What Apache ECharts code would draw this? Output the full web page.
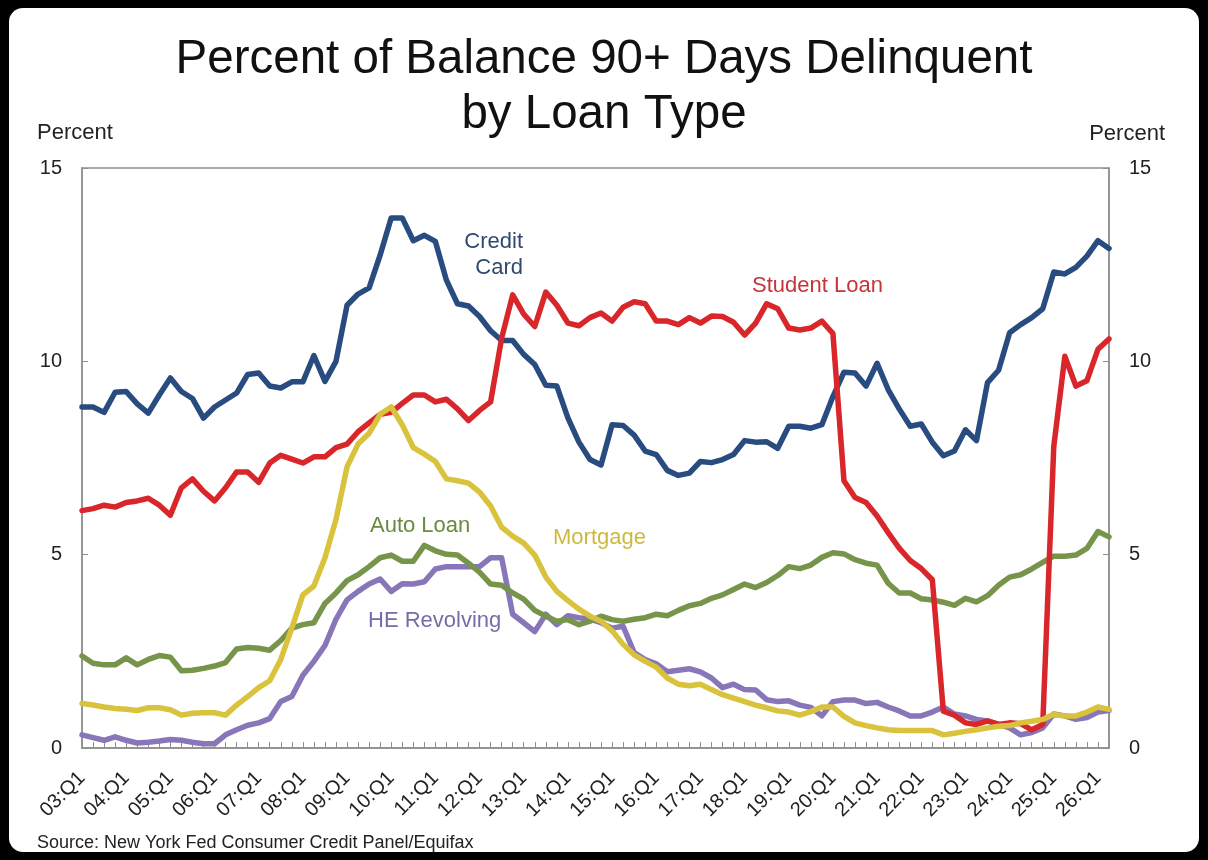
<!DOCTYPE html>
<html>
<head>
<meta charset="utf-8">
<title>Percent of Balance 90+ Days Delinquent by Loan Type</title>
<script src="https://cdn.jsdelivr.net/npm/echarts@6/dist/echarts.min.js"></script>
<style>
  html, body { margin: 0; padding: 0; background: #000; }
  #frame {
    position: absolute; left: 9px; top: 8px; right: 9px; bottom: 8px;
    background: #fff; border-radius: 14px;
  }
  #chart { position: absolute; left: 0; top: 0; width: 1208px; height: 860px; }
</style>
</head>
<body>
<div id="frame"></div>
<div id="chart"></div>
<script>
// quarterly categories 03:Q1 .. 26:Q2
const years = ["03", "04", "05", "06", "07", "08", "09", "10", "11", "12", "13", "14",
  "15", "16", "17", "18", "19", "20", "21", "22", "23", "24", "25", "26"];
const quarterNames = ["Q1", "Q2", "Q3", "Q4"];
const quarters = [];
years.forEach((y) => quarterNames.forEach((q) => quarters.push(`${y}:${q}`)));
quarters.length = 94;

const yTicks = [0, 5, 10, 15];

const creditCard = [
  8.82, 8.82, 8.68, 9.2, 9.22, 8.9, 8.66, 9.13, 9.57, 9.22,
  9.04, 8.53, 8.82, 9.0, 9.18, 9.66, 9.7, 9.36, 9.31, 9.47,
  9.47, 10.15, 9.48, 10.0, 11.45, 11.74, 11.9, 12.75, 13.71, 13.71,
  13.12, 13.26, 13.1, 12.1, 11.49, 11.43, 11.16, 10.79, 10.54, 10.54,
  10.18, 9.92, 9.38, 9.36, 8.54, 7.91, 7.46, 7.32, 8.36, 8.34,
  8.09, 7.68, 7.59, 7.18, 7.05, 7.11, 7.41, 7.38, 7.46, 7.59,
  7.95, 7.91, 7.92, 7.75, 8.32, 8.32, 8.27, 8.36, 9.09, 9.72,
  9.7, 9.36, 9.95, 9.27, 8.77, 8.32, 8.38, 7.91, 7.56, 7.68,
  8.23, 7.95, 9.45, 9.77, 10.74, 10.95, 11.13, 11.36, 12.31, 12.26,
  12.43, 12.72, 13.12, 12.92
];

const studentLoan = [
  6.14, 6.19, 6.28, 6.23, 6.35, 6.39, 6.46, 6.28, 6.02, 6.73,
  6.96, 6.64, 6.39, 6.73, 7.14, 7.14, 6.87, 7.37, 7.57, 7.47,
  7.37, 7.53, 7.53, 7.77, 7.86, 8.18, 8.41, 8.63, 8.68, 8.91,
  9.13, 9.13, 8.95, 9.02, 8.77, 8.47, 8.73, 8.95, 10.6, 11.72,
  11.22, 10.9, 11.79, 11.45, 10.99, 10.92, 11.13, 11.25, 11.04, 11.4,
  11.54, 11.49, 11.04, 11.04, 10.95, 11.13, 10.99, 11.17, 11.16, 11.01,
  10.68, 10.99, 11.49, 11.36, 10.86, 10.81, 10.86, 11.04, 10.72, 6.91,
  6.48, 6.35, 6.0, 5.57, 5.17, 4.85, 4.64, 4.35, 0.95, 0.85,
  0.65, 0.61, 0.7, 0.61, 0.65, 0.63, 0.47, 0.61, 7.8, 10.13,
  9.36, 9.5, 10.31, 10.58
];

const mortgage = [
  1.15, 1.11, 1.06, 1.02, 1.0, 0.97, 1.04, 1.04, 0.99, 0.85,
  0.9, 0.91, 0.91, 0.85, 1.11, 1.33, 1.56, 1.74, 2.29, 3.1,
  3.96, 4.19, 4.92, 5.91, 7.27, 7.86, 8.14, 8.63, 8.82, 8.36,
  7.77, 7.6, 7.41, 6.96, 6.91, 6.85, 6.62, 6.26, 5.71, 5.48,
  5.3, 4.99, 4.42, 4.05, 3.81, 3.59, 3.41, 3.28, 3.03, 2.68,
  2.41, 2.24, 2.09, 1.81, 1.65, 1.61, 1.65, 1.51, 1.38, 1.29,
  1.2, 1.11, 1.04, 0.96, 0.93, 0.85, 0.94, 1.06, 1.06, 0.82,
  0.65, 0.58, 0.52, 0.47, 0.45, 0.45, 0.45, 0.45, 0.34, 0.38,
  0.43, 0.47, 0.52, 0.56, 0.58, 0.65, 0.69, 0.74, 0.87, 0.83,
  0.83, 0.93, 1.06, 1.0
];

const autoLoan = [
  2.38, 2.19, 2.15, 2.15, 2.33, 2.15, 2.29, 2.39, 2.35, 2.0,
  2.01, 2.06, 2.12, 2.21, 2.56, 2.6, 2.58, 2.53, 2.78, 3.1,
  3.19, 3.24, 3.74, 4.01, 4.33, 4.48, 4.69, 4.92, 4.99, 4.83,
  4.83, 5.24, 5.1, 5.01, 4.99, 4.78, 4.55, 4.24, 4.21, 4.01,
  3.85, 3.56, 3.41, 3.28, 3.32, 3.19, 3.28, 3.41, 3.32, 3.28,
  3.33, 3.37, 3.46, 3.42, 3.56, 3.68, 3.74, 3.87, 3.96, 4.1,
  4.24, 4.15, 4.28, 4.46, 4.69, 4.64, 4.73, 4.93, 5.05, 5.02,
  4.87, 4.78, 4.73, 4.26, 4.01, 4.01, 3.86, 3.83, 3.77, 3.69,
  3.87, 3.78, 3.94, 4.21, 4.42, 4.48, 4.63, 4.8, 4.96, 4.96,
  4.99, 5.16, 5.6, 5.46
];

const heRevolving = [
  0.34, 0.27, 0.2, 0.29, 0.2, 0.13, 0.15, 0.18, 0.22, 0.2,
  0.15, 0.11, 0.11, 0.34, 0.47, 0.59, 0.65, 0.76, 1.2, 1.33,
  1.88, 2.24, 2.65, 3.33, 3.83, 4.05, 4.24, 4.37, 4.05, 4.25,
  4.24, 4.3, 4.63, 4.69, 4.69, 4.69, 4.69, 4.92, 4.92, 3.46,
  3.24, 3.01, 3.46, 3.19, 3.42, 3.37, 3.33, 3.24, 3.1, 3.15,
  2.47, 2.29, 2.18, 1.97, 2.01, 2.05, 1.97, 1.81, 1.56, 1.65,
  1.51, 1.5, 1.25, 1.2, 1.22, 1.11, 1.05, 0.83, 1.2, 1.24,
  1.24, 1.15, 1.18, 1.06, 0.96, 0.83, 0.83, 0.93, 1.06, 0.88,
  0.83, 0.74, 0.7, 0.61, 0.52, 0.34, 0.4, 0.52, 0.88, 0.83,
  0.74, 0.79, 0.93, 0.97
];

const FONT = "'Liberation Sans', Arial, sans-serif";
const AXIS_GRAY = "#8f8f8f";

const chart = echarts.init(document.getElementById("chart"));

const label = (text, x, y, color, align) => ({
  type: "text",
  x: x,
  y: y,
  style: {
    text: text,
    fill: color,
    font: `22px ${FONT}`,
    textAlign: align || "left",
    align: align || "left",
    textVerticalAlign: "middle",
    verticalAlign: "middle",
    lineHeight: 26,
  },
});

const yAxisBase = {
  type: "value",
  min: yTicks[0],
  max: yTicks[yTicks.length - 1],
  interval: 5,
  splitLine: { show: false },
  axisLine: { show: true, lineStyle: { color: AXIS_GRAY, width: 1.5 } },
  axisTick: { show: true, inside: true, length: 6, lineStyle: { color: AXIS_GRAY } },
  axisLabel: { color: "#222", fontSize: 20, fontFamily: FONT, margin: 20 },
};

const lineSeries = (name, data, color, z) => ({
  name: name,
  type: "line",
  data: data,
  showSymbol: false,
  symbol: "none",
  z: z,
  lineStyle: { color: color, width: 5.5, join: "round", cap: "round" },
  emphasis: { disabled: true },
});

const option = {
  backgroundColor: "transparent",
  animation: false,
  title: {
    text: "Percent of Balance 90+ Days Delinquent\nby Loan Type",
    left: "center",
    top: 27,
    textStyle: {
      fontFamily: FONT,
      fontSize: 47.5,
      fontWeight: "normal",
      color: "#111",
      lineHeight: 55,
    },
  },
  grid: {
    left: 82,
    right: 99,
    top: 168,
    bottom: 112,
    show: true,
    borderColor: AXIS_GRAY,
    borderWidth: 1.5,
    containLabel: false,
  },
  xAxis: {
    type: "category",
    data: quarters,
    boundaryGap: false,
    axisLine: { show: true, lineStyle: { color: AXIS_GRAY, width: 1.5 } },
    axisTick: {
      show: true,
      inside: true,
      interval: 0,
      length: 6,
      lineStyle: { color: AXIS_GRAY },
    },
    axisLabel: {
      interval: 3,
      rotate: 45,
      color: "#222",
      fontSize: 20,
      fontFamily: FONT,
      margin: 27,
    },
    splitLine: { show: false },
  },
  yAxis: [
    Object.assign({}, yAxisBase, { position: "left" }),
    Object.assign({}, yAxisBase, { position: "right" }),
  ],
  series: [
    lineSeries("HE Revolving", heRevolving, "#8877b8", 2),
    lineSeries("Auto Loan", autoLoan, "#76944a", 3),
    lineSeries("Credit Card", creditCard, "#284b80", 4),
    lineSeries("Student Loan", studentLoan, "#d8262a", 5),
    lineSeries("Mortgage", mortgage, "#d9c23c", 6),
  ],
  graphic: [
    label("Percent", 37, 133, "#222", "left"),
    label("Percent", 1165, 134, "#222", "right"),
    label("Credit\nCard", 523, 255, "#2f4a6e", "right"),
    label("Student Loan", 752, 286, "#c5343a", "left"),
    label("Auto Loan", 370, 526, "#6a8a40", "left"),
    label("Mortgage", 553, 538, "#cdb940", "left"),
    label("HE Revolving", 368, 621, "#7a6aa8", "left"),
    {
      type: "text",
      x: 37,
      y: 843,
      style: {
        text: "Source: New York Fed Consumer Credit Panel/Equifax",
        fill: "#222",
        font: `18px ${FONT}`,
        textAlign: "left",
        align: "left",
        textVerticalAlign: "middle",
        verticalAlign: "middle",
      },
    },
  ],
};

chart.setOption(option);
</script>
</body>
</html>
